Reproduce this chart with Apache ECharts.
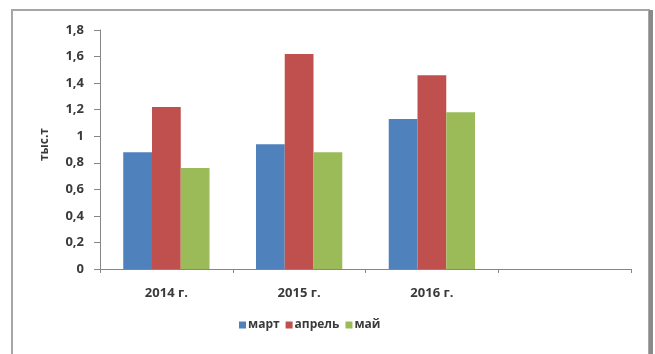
<!DOCTYPE html>
<html>
<head>
<meta charset="utf-8">
<script src="https://cdn.jsdelivr.net/npm/echarts@6/dist/echarts.min.js"></script>
<style>
  html, body { margin: 0; padding: 0; background: #fff; }
  #chart { width: 655px; height: 354px; }
</style>
</head>
<body>
<div id="chart"></div>
<script>
// Categories (the last slot is left empty, as on the original sheet)
const years = ['2014 г.', '2015 г.', '2016 г.', ''];
const seriesNames = ['март', 'апрель', 'май'];
const march = [0.88, 0.94, 1.13, null];
const april = [1.22, 1.62, 1.46, null];
const may = [0.76, 0.88, 1.18, null];
const yTicks = [0, 0.2, 0.4, 0.6, 0.8, 1, 1.2, 1.4, 1.6, 1.8];
const colors = ['#4F81BD', '#C0504D', '#9BBB59'];

const labelFont = { fontFamily: 'Open Sans', fontWeight: 'bold', fontSize: 13, color: '#3a3a3a' };

const chart = echarts.init(document.getElementById('chart'), null, { renderer: 'canvas' });

const values = [march, april, may];
chart.setOption({
  animation: false,
  backgroundColor: '#fff',
  color: colors,
  graphic: [
    // Frame around the chart area
    { type: 'rect', shape: { x: 12, y: 10, width: 637, height: 360 },
      style: { fill: 'none', stroke: '#a6a6a6', lineWidth: 2 }, silent: true },
    { type: 'line', shape: { x1: 651, y1: 10, x2: 651, y2: 354 },
      style: { stroke: '#8a8a8a', lineWidth: 4 }, silent: true },
    { type: 'text', left: 39, top: 128, rotation: Math.PI / 2,
      style: { text: 'тыс.т', fontFamily: 'Open Sans', fontWeight: 'bold', fontSize: 12, fill: '#3a3a3a' } }
  ],
  grid: { left: 100, right: 24, top: 30, bottom: 85, containLabel: false },
  legend: {
    data: seriesNames,
    bottom: 18,
    left: 234,
    itemWidth: 7,
    itemHeight: 7,
    itemGap: 6,
    icon: 'rect',
    textStyle: Object.assign({}, labelFont, { fontSize: 12, padding: [0, 0, 0, -3] })
  },
  xAxis: {
    type: 'category',
    data: years,
    axisLine: { lineStyle: { color: '#868686', width: 1 } },
    axisTick: { show: true, alignWithLabel: false, length: 4, lineStyle: { color: '#868686' } },
    axisLabel: Object.assign({ margin: 18, interval: 0 }, labelFont),
    splitLine: { show: false }
  },
  yAxis: {
    type: 'value',
    min: yTicks[0],
    max: yTicks[yTicks.length - 1],
    interval: 0.2,
    axisLine: { show: true, lineStyle: { color: '#868686', width: 1 } },
    axisTick: { show: true, length: 6, lineStyle: { color: '#868686' } },
    axisLabel: Object.assign({
      margin: 16,
      formatter: v => {
        const t = yTicks.find(x => Math.abs(x - v) < 1e-9);
        return String(t !== undefined ? t : v).replace('.', ',');
      }
    }, labelFont),
    splitLine: { show: false }
  },
  series: seriesNames.map((name, i) => ({
    name,
    type: 'bar',
    data: values[i],
    barGap: '0%',
    barCategoryGap: '35%',
    itemStyle: { color: colors[i] }
  }))
});
</script>
</body>
</html>
